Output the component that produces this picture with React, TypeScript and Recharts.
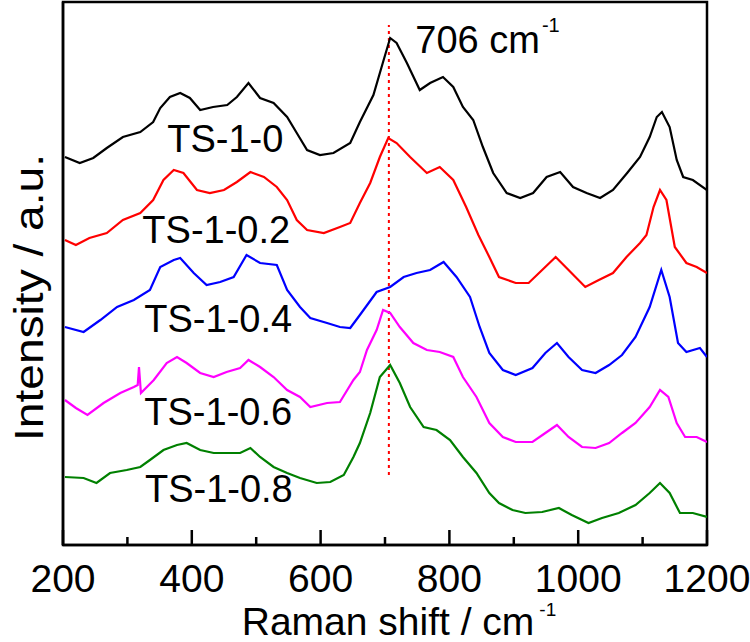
import React from 'react';
import { LineChart, Line, XAxis, YAxis, ReferenceLine, ReferenceDot, ReferenceArea } from 'recharts';

// Raman shift ticks (cm-1)
const X_TICKS = [200, 300, 400, 500, 600, 700, 800, 900, 1000, 1100, 1200];
const X_LABELED = [200, 400, 600, 800, 1000, 1200];

// [Raman shift, stacked intensity (a.u.)]
const TS_1_0: [number, number][] = [
  [203, 388], [226, 382], [247, 387], [268, 397], [293, 408], [320, 413], [340, 423], [351, 437],
  [366, 448], [382, 452], [397, 447], [413, 435], [433, 438], [455, 440], [470, 448], [488, 462],
  [506, 447], [527, 442], [548, 428], [563, 412], [579, 395], [599, 390], [620, 392], [646, 402],
  [661, 423], [682, 450], [697, 483], [708, 507], [718, 502], [734, 482], [754, 455], [770, 462],
  [790, 468], [806, 458], [821, 438], [837, 425], [852, 398], [868, 372], [889, 352], [910, 347],
  [930, 352], [951, 368], [972, 373], [992, 358], [1013, 352], [1034, 347], [1054, 355], [1076, 372],
  [1096, 388], [1111, 408], [1122, 428], [1130, 433], [1142, 418], [1153, 385], [1163, 368],
  [1178, 365], [1200, 355],
];

const TS_1_02: [number, number][] = [
  [203, 305], [220, 300], [241, 307], [268, 312], [293, 325], [320, 332], [340, 345], [356, 365],
  [372, 375], [387, 372], [408, 355], [428, 352], [450, 355], [470, 363], [491, 373], [512, 368],
  [532, 358], [548, 345], [563, 325], [579, 315], [605, 312], [630, 318], [646, 322], [661, 342],
  [677, 362], [692, 388], [705, 407], [718, 402], [739, 388], [765, 372], [785, 378], [806, 365],
  [826, 338], [845, 310], [862, 288], [877, 268], [903, 262], [923, 262], [944, 275], [965, 288],
  [985, 275], [1011, 258], [1032, 265], [1054, 272], [1075, 288], [1096, 302], [1106, 310],
  [1117, 338], [1127, 355], [1137, 345], [1150, 298], [1168, 282], [1184, 278], [1200, 272],
];

const TS_1_04: [number, number][] = [
  [203, 218], [232, 213], [258, 225], [284, 238], [310, 245], [335, 255], [351, 278], [372, 285],
  [382, 287], [403, 272], [423, 260], [444, 263], [465, 268], [485, 290], [506, 282], [532, 280],
  [548, 255], [568, 238], [584, 227], [610, 222], [630, 218], [646, 217], [661, 230], [687, 253],
  [708, 258], [729, 268], [749, 272], [770, 275], [791, 283], [811, 268], [832, 248], [847, 218],
  [862, 192], [883, 175], [903, 170], [929, 177], [949, 192], [967, 202], [985, 188], [1006, 175],
  [1027, 172], [1048, 180], [1068, 190], [1089, 208], [1111, 238], [1129, 275], [1142, 248],
  [1155, 202], [1168, 193], [1189, 197], [1200, 188],
];

const TS_1_06: [number, number][] = [
  [203, 145], [220, 137], [238, 130], [263, 142], [289, 152], [310, 158], [316, 160], [318, 178],
  [321, 152], [341, 165], [361, 182], [377, 188], [392, 182], [413, 172], [434, 168], [454, 173],
  [475, 177], [488, 185], [506, 178], [527, 168], [548, 155], [568, 148], [584, 138], [610, 142],
  [630, 143], [651, 165], [661, 173], [672, 195], [687, 215], [697, 235], [708, 232], [723, 218],
  [744, 202], [765, 195], [785, 193], [806, 188], [821, 168], [842, 148], [862, 122], [883, 108],
  [903, 103], [929, 103], [949, 112], [967, 120], [985, 108], [1006, 98], [1027, 97], [1048, 102],
  [1068, 112], [1089, 122], [1111, 138], [1127, 155], [1140, 148], [1153, 122], [1166, 108],
  [1184, 108], [1200, 103],
];

const TS_1_08: [number, number][] = [
  [203, 68], [232, 67], [252, 62], [273, 72], [299, 75], [320, 78], [335, 85], [356, 95],
  [377, 100], [392, 102], [413, 95], [434, 92], [454, 92], [475, 92], [491, 97], [506, 88],
  [527, 78], [548, 72], [568, 67], [594, 62], [615, 63], [636, 70], [651, 88], [661, 102],
  [677, 132], [692, 168], [708, 180], [723, 162], [739, 138], [760, 118], [780, 115], [801, 105],
  [821, 88], [842, 72], [862, 52], [877, 42], [898, 35], [918, 32], [944, 33], [970, 37],
  [990, 30], [1016, 22], [1037, 27], [1063, 32], [1089, 40], [1111, 52], [1127, 62], [1142, 52],
  [1158, 32], [1178, 32], [1200, 28],
];

const SERIES_NAMES = ['TS-1-0', 'TS-1-0.2', 'TS-1-0.4', 'TS-1-0.6', 'TS-1-0.8'];
const SERIES_POINTS = [TS_1_0, TS_1_02, TS_1_04, TS_1_06, TS_1_08];
const SERIES_COLORS = ['#000000', '#ff0000', '#0000ff', '#ff00ff', '#008000'];

// sample name annotations: [center shift, baseline intensity]
const NAME_POS: [number, number][] = [[452, 393], [438, 302], [441, 213], [441, 120], [442, 43]];

const PEAK_SHIFT = 706;
const PEAK_LINE_RANGE: [number, number] = [70, 520];
const PEAK_TEXT_POS: [number, number] = [747, 492];

const Y_DOMAIN: [number, number] = [0, 543];
const FONT = '"Liberation Sans", Arial, Helvetica, sans-serif';

const XTick = (props: any) => {
  const { x, y, payload } = props;
  const v = payload.value;
  const major = X_LABELED.includes(v);
  return (
    <g>
      <line x1={x} x2={x} y1={y} y2={y - (major ? 15 : 8)} stroke="#000" strokeWidth={2.5} />
      {major && (
        <text x={x} y={y + 47} textAnchor="middle" fontSize={39} fontFamily={FONT} fill="#000">
          {v}
        </text>
      )}
    </g>
  );
};

const XTitle = (props: any) => {
  const vb = props.viewBox || { x: 63, y: 545, width: 644, height: 97 };
  return (
    <text x={vb.x + vb.width / 2 + 14} y={vb.y + 90} textAnchor="middle" fontSize={39} fontFamily={FONT} fill="#000">
      Raman shift / cm
      <tspan fontSize={19} dx={5} dy={-19}>-1</tspan>
    </text>
  );
};

const YTitle = (props: any) => {
  const vb = props.viewBox || { x: 0, y: 2, width: 63, height: 543 };
  const cx = vb.x + vb.width - 20;
  const cy = vb.y + vb.height / 2 + 24;
  return (
    <text
      x={cx}
      y={cy}
      transform={`rotate(-90 ${cx} ${cy})`}
      textAnchor="middle"
      fontSize={40}
      fontFamily={FONT}
      fill="#000"
      textLength={287}
      lengthAdjust="spacingAndGlyphs"
    >
      Intensity / a.u.
    </text>
  );
};

const makeNameShape = (label: string) => (p: any) => (
  <text x={p.cx} y={p.cy} textAnchor="middle" fontSize={38} fontFamily={FONT} fill="#000">
    {label}
  </text>
);

const PeakShape = (p: any) => (
  <text x={p.cx} y={p.cy} textAnchor="start" fontSize={38} fontFamily={FONT} fill="#000">
    {PEAK_SHIFT} cm
    <tspan fontSize={20} dx={2} dy={-21}>-1</tspan>
  </text>
);

export default function App() {
  return (
    <div style={{ position: 'absolute', left: 0, top: 0, width: 750, height: 642, background: '#fff' }}>
      <LineChart width={750} height={642} margin={{ top: 2, right: 43, bottom: 0, left: 0 }}>
        <XAxis
          dataKey="x"
          type="number"
          domain={[200, 1200]}
          ticks={X_TICKS}
          interval={0}
          allowDataOverflow
          height={97}
          tickSize={0}
          tickMargin={0}
          tickLine={false}
          tick={<XTick />}
          axisLine={{ stroke: '#000', strokeWidth: 2.5 }}
          label={{ content: XTitle } as any}
        />
        <YAxis
          type="number"
          domain={Y_DOMAIN}
          allowDataOverflow
          width={63}
          tick={false}
          tickLine={false}
          axisLine={{ stroke: '#000', strokeWidth: 2.5 }}
          label={{ content: YTitle } as any}
        />
        <ReferenceArea x1={200} x2={1200} y1={Y_DOMAIN[0]} y2={Y_DOMAIN[1]} fill="none" fillOpacity={0} stroke="#000" strokeWidth={2.5} />
        <ReferenceLine
          segment={[{ x: PEAK_SHIFT, y: PEAK_LINE_RANGE[0] }, { x: PEAK_SHIFT, y: PEAK_LINE_RANGE[1] }]}
          stroke="#ff0000"
          strokeWidth={2}
          strokeDasharray="3 4"
        />
        {SERIES_POINTS.map((pts, i) => (
          <Line
            key={SERIES_NAMES[i]}
            name={SERIES_NAMES[i]}
            data={pts.map(([x, y]) => ({ x, y }))}
            dataKey="y"
            type="linear"
            stroke={SERIES_COLORS[i]}
            strokeWidth={2.2}
            dot={false}
            activeDot={false}
            isAnimationActive={false}
          />
        ))}
        {NAME_POS.map(([x, y], i) => (
          <ReferenceDot key={'lbl' + i} x={x} y={y} r={0} shape={makeNameShape(SERIES_NAMES[i])} />
        ))}
        <ReferenceDot x={PEAK_TEXT_POS[0]} y={PEAK_TEXT_POS[1]} r={0} shape={PeakShape} />
      </LineChart>
    </div>
  );
}
